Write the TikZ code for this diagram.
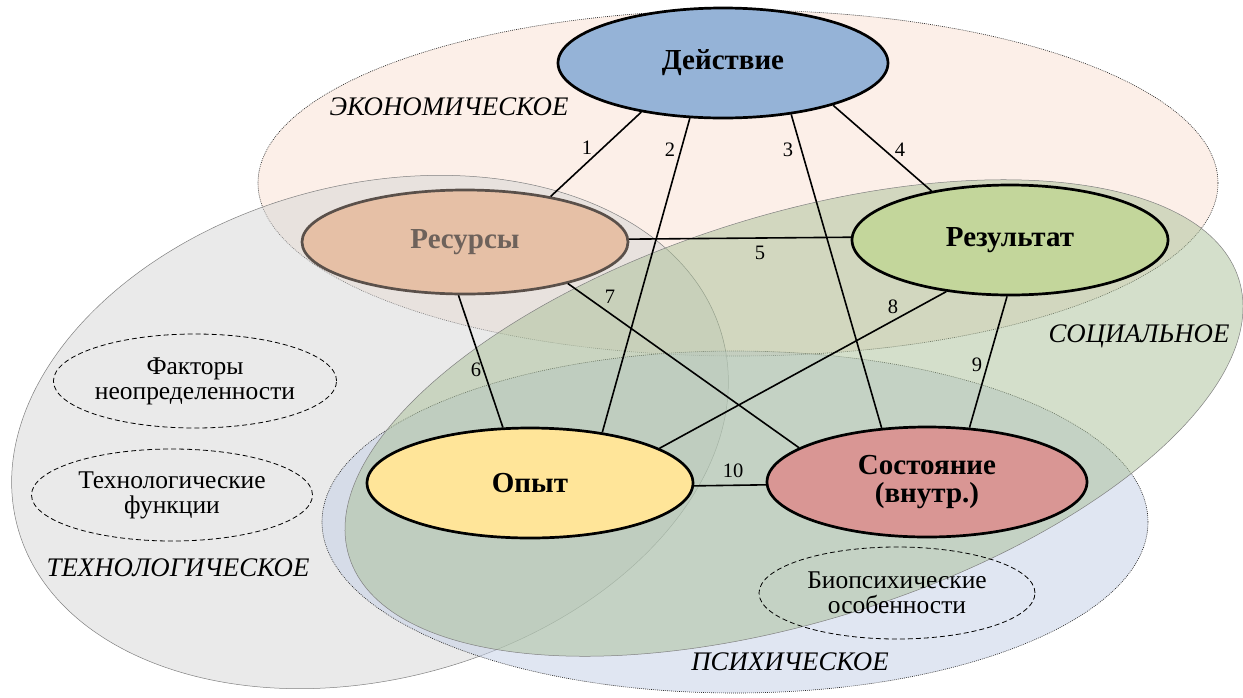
\documentclass[tikz,border=0pt]{standalone}
\usepackage{fontspec}
\setmainfont{Liberation Serif}
\usetikzlibrary{shapes.geometric}

% sphere fills (used with half opacity)
\definecolor{ecoC}{RGB}{251,225,211}
\definecolor{techC}{RGB}{214,214,214}
\definecolor{socC}{RGB}{170,192,152}
\definecolor{psyC}{RGB}{195,207,231}
% core notions
\definecolor{actC}{RGB}{149,179,215}
\definecolor{resC}{RGB}{230,192,166}
\definecolor{resD}{RGB}{90,80,74}
\definecolor{resT}{RGB}{110,98,91}
\definecolor{outC}{RGB}{195,214,155}
\definecolor{expC}{RGB}{255,229,153}
\definecolor{staC}{RGB}{217,150,148}

\tikzset{
  sphere/.style={fill opacity=0.5, draw opacity=1},
  dotline/.style={draw=black!85, line width=0.6pt, dash pattern=on 0.9pt off 1.1pt},
  thinline/.style={draw=black!50, line width=0.5pt},
  core/.style={ellipse, draw=black, line width=2.7pt, inner sep=0pt, align=center,
    font=\bfseries\fontsize{29}{28}\selectfont},
  factor/.style={ellipse, draw=black, line width=0.8pt, dash pattern=on 5pt off 3pt,
    inner sep=0pt, align=center, font=\fontsize{25.5}{25}\selectfont},
  sphlabel/.style={font=\itshape\fontsize{26.8}{28}\selectfont},
  link/.style={draw=black, line width=1.6pt},
  num/.style={font=\fontsize{20.5}{22}\selectfont, inner sep=0pt}
}

\begin{document}
\begin{tikzpicture}[x=1pt, y=-1pt]
\useasboundingbox (0,0) rectangle (1243,697);
\fill[white] (0,0) rectangle (1243,697);

% spheres of activity
\path[sphere, fill=ecoC, dotline] (738,183) ellipse [x radius=480pt, y radius=173pt];
\path[sphere, fill=techC, thinline, rotate around={15:(370,432)}]
  (370,432) ellipse [x radius=365pt, y radius=247pt];
\path[sphere, fill=psyC, dotline] (735,522) ellipse [x radius=413pt, y radius=171pt];
\path[sphere, fill=socC, thinline, rotate around={17.3:(794,418)}]
  (794,418) ellipse [x radius=466pt, y radius=203pt];

% sphere names
\node[sphlabel] (leco) at (449,107) {ЭКОНОМИЧЕСКОЕ};
\node[sphlabel] (lsoc) at (1139,336) {СОЦИАЛЬНОЕ};
\node[sphlabel] (ltech) at (178,568) {ТЕХНОЛОГИЧЕСКОЕ};
\node[sphlabel] (lpsy) at (790,662) {ПСИХИЧЕСКОЕ};

% factors
\node[factor, minimum width=280pt, minimum height=94pt] (unc) at (195,381)
  {Факторы\\неопределенности};
\node[factor, minimum width=281pt, minimum height=92pt] (techf) at (172,495)
  {Технологические\\функции};
\node[factor, minimum width=276pt, minimum height=92pt] (bio) at (897,593)
  {Биопсихические\\особенности};

% core notions
\node[core, fill=actC, minimum width=330pt, minimum height=110pt] (act) at (723,63) {Действие};
\node[core, fill=resC, draw=resD, text=resT, minimum width=326pt, minimum height=104pt] (res) at (465,242) {Ресурсы};
\node[core, fill=outC, minimum width=316pt, minimum height=110pt] (out) at (1010,240) {Результат};
\node[core, fill=expC, minimum width=326pt, minimum height=110pt] (exp) at (530,483) {Опыт};
\node[core, fill=staC, minimum width=320pt, minimum height=110pt] (sta) at (927,482) {Состояние\\(внутр.)};

% links
\draw[link] (act.-149) -- (res.28);
\draw[link] (act.-121) -- (exp.35);
\draw[link] (act.-37) -- (sta.130);
\draw[link] (act.-21) -- (out.148);
\draw[link] (res.1) -- (out.179);
\draw[link] (res.-97) -- (exp.116);
\draw[link] (res.-22) -- (sta.165);
\draw[link] (out.-141) -- (exp.15);
\draw[link] (out.-93) -- (sta.52);
\draw[link] (exp.-1) -- (sta.181);

% link numbers
\node[num] (n1) at (587,148) {1};
\node[num] (n2) at (670,150) {2};
\node[num] (n3) at (788,150) {3};
\node[num] (n4) at (900,150) {4};
\node[num] (n5) at (760,253) {5};
\node[num] (n6) at (476,370) {6};
\node[num] (n7) at (610,297) {7};
\node[num] (n8) at (893,307) {8};
\node[num] (n9) at (977,365) {9};
\node[num] (n10) at (733,471) {10};
\end{tikzpicture}
\end{document}
